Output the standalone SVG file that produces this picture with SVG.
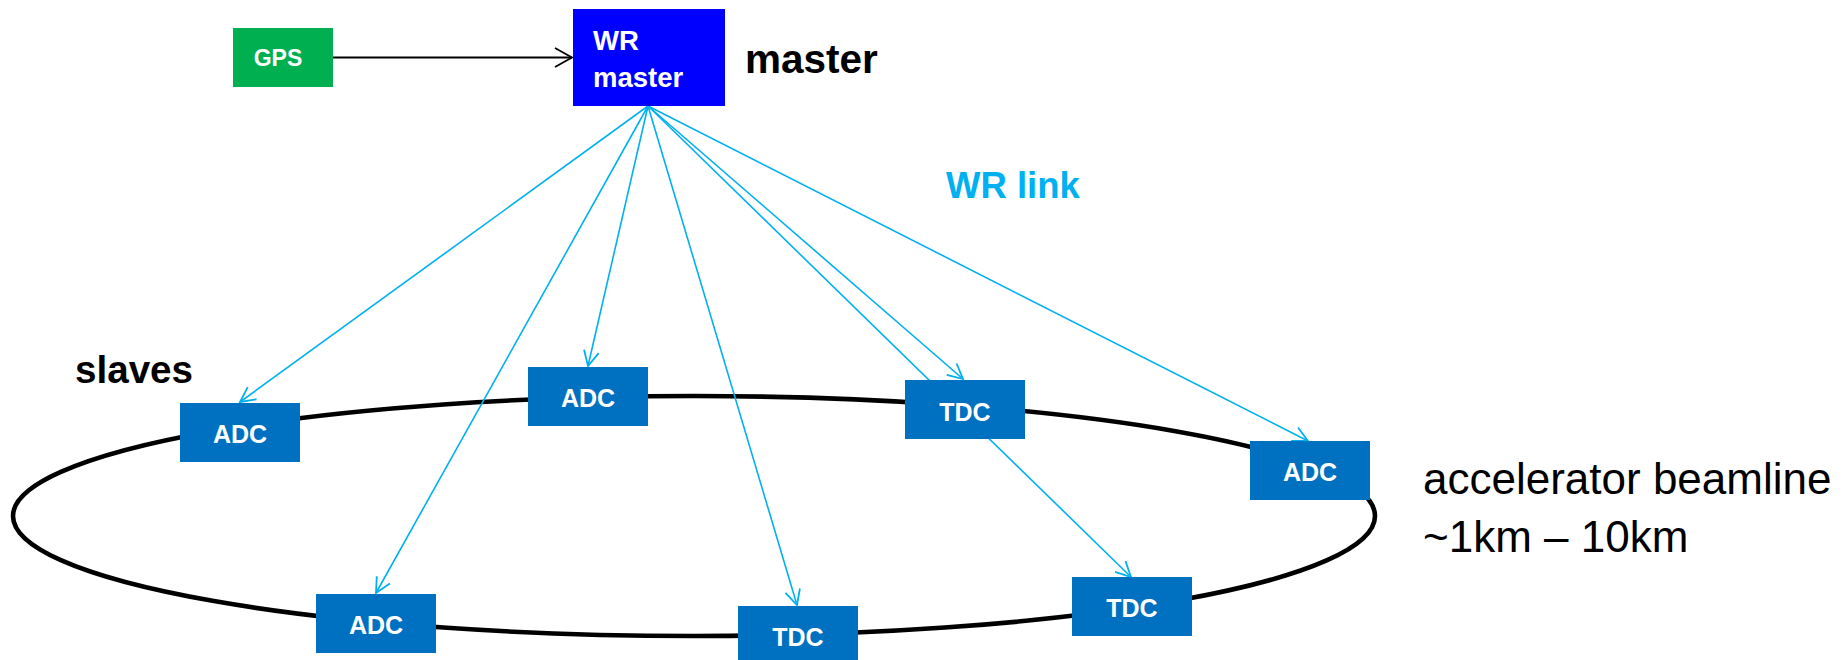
<svg xmlns="http://www.w3.org/2000/svg" width="1845" height="660" viewBox="0 0 1845 660">
  <style>
    .slave { fill: #0070C0; }
    .slave-text { font-family: "Liberation Sans", Arial, sans-serif; font-weight: bold; font-size: 25px; fill: #FFFFFF; text-anchor: middle; }
    .link { stroke: #00B0F0; stroke-width: 1.6; fill: none; marker-end: url(#blueArrow); }
    .link-plain { stroke: #00B0F0; stroke-width: 1.6; fill: none; }
    .label { font-family: "Liberation Sans", Arial, sans-serif; fill: #000000; }
  </style>
  <defs>
    <marker id="blueArrow" viewBox="0 0 18 18" refX="16" refY="9" markerWidth="18" markerHeight="18" markerUnits="userSpaceOnUse" orient="auto">
      <path d="M1,1.5 L16,9 L1,16.5" fill="none" stroke="#00B0F0" stroke-width="1.8"/>
    </marker>
    <marker id="blackArrow" viewBox="0 0 20 22" refX="18" refY="11" markerWidth="20" markerHeight="22" markerUnits="userSpaceOnUse" orient="auto">
      <path d="M1,1.5 L18,11 L1,20.5" fill="none" stroke="#000000" stroke-width="1.8"/>
    </marker>
  </defs>

  <rect width="1845" height="660" fill="#FFFFFF"/>

  <!-- beamline ring -->
  <g id="beamline">
    <ellipse cx="694" cy="516" rx="681" ry="120" fill="none" stroke="#000000" stroke-width="4.6"/>
  </g>

  <!-- connectors -->
  <g id="connectors">
    <line x1="333" y1="57.5" x2="572" y2="57.5" stroke="#000000" stroke-width="1.8" marker-end="url(#blackArrow)"/>
    <line class="link" x1="648" y1="106" x2="240" y2="402"/>
    <line class="link" x1="648" y1="106" x2="376" y2="593"/>
    <line class="link" x1="648" y1="106" x2="588" y2="366"/>
    <line class="link" x1="648" y1="106" x2="797" y2="605"/>
    <line class="link" x1="648" y1="106" x2="963" y2="379"/>
    <line class="link" x1="648" y1="106" x2="1131" y2="577"/>
    <line class="link" x1="648" y1="106" x2="1308" y2="441"/>
  </g>

  <!-- nodes -->
  <g id="gps">
    <rect x="233" y="28" width="100" height="59" fill="#00B050"/>
    <text x="278" y="65.5" font-family="Liberation Sans, Arial, sans-serif" font-weight="bold" font-size="23" fill="#FFFFFF" text-anchor="middle">GPS</text>
  </g>

  <g id="wr-master">
    <rect x="573" y="9" width="152" height="97" fill="#0000FF"/>
    <text x="593" y="49.5" font-family="Liberation Sans, Arial, sans-serif" font-weight="bold" font-size="27.5" fill="#FFFFFF">WR</text>
    <text x="593" y="86.5" font-family="Liberation Sans, Arial, sans-serif" font-weight="bold" font-size="27.5" fill="#FFFFFF">master</text>
  </g>

  <g id="slave-adc-1">
    <rect class="slave" x="180" y="403" width="120" height="59"/>
    <text class="slave-text" x="240" y="442.5">ADC</text>
  </g>
  <g id="slave-adc-2">
    <rect class="slave" x="316" y="594" width="120" height="59"/>
    <text class="slave-text" x="376" y="633.5">ADC</text>
  </g>
  <g id="slave-adc-3">
    <rect class="slave" x="528" y="367" width="120" height="59"/>
    <text class="slave-text" x="588" y="406.5">ADC</text>
  </g>
  <g id="slave-tdc-1">
    <rect class="slave" x="738" y="606" width="120" height="59"/>
    <text class="slave-text" x="798" y="646">TDC</text>
  </g>
  <g id="slave-tdc-2">
    <rect class="slave" x="905" y="380" width="120" height="59"/>
    <text class="slave-text" x="965" y="420.5">TDC</text>
  </g>
  <g id="slave-tdc-3">
    <rect class="slave" x="1072" y="577" width="120" height="59"/>
    <text class="slave-text" x="1132" y="617">TDC</text>
  </g>
  <g id="slave-adc-4">
    <rect class="slave" x="1250" y="441" width="120" height="59"/>
    <text class="slave-text" x="1310" y="480.5">ADC</text>
  </g>

  <!-- labels -->
  <g id="labels">
    <text class="label" x="745" y="72.5" font-weight="bold" font-size="40.5">master</text>
    <text x="946" y="197.5" font-family="Liberation Sans, Arial, sans-serif" font-weight="bold" font-size="36.5" fill="#00B0F0">WR link</text>
    <text class="label" x="75" y="383" font-weight="bold" font-size="38.6">slaves</text>
    <text class="label" x="1423" y="494" font-size="44">accelerator beamline</text>
    <text class="label" x="1423" y="551.5" font-size="44">~1km – 10km</text>
  </g>
</svg>
